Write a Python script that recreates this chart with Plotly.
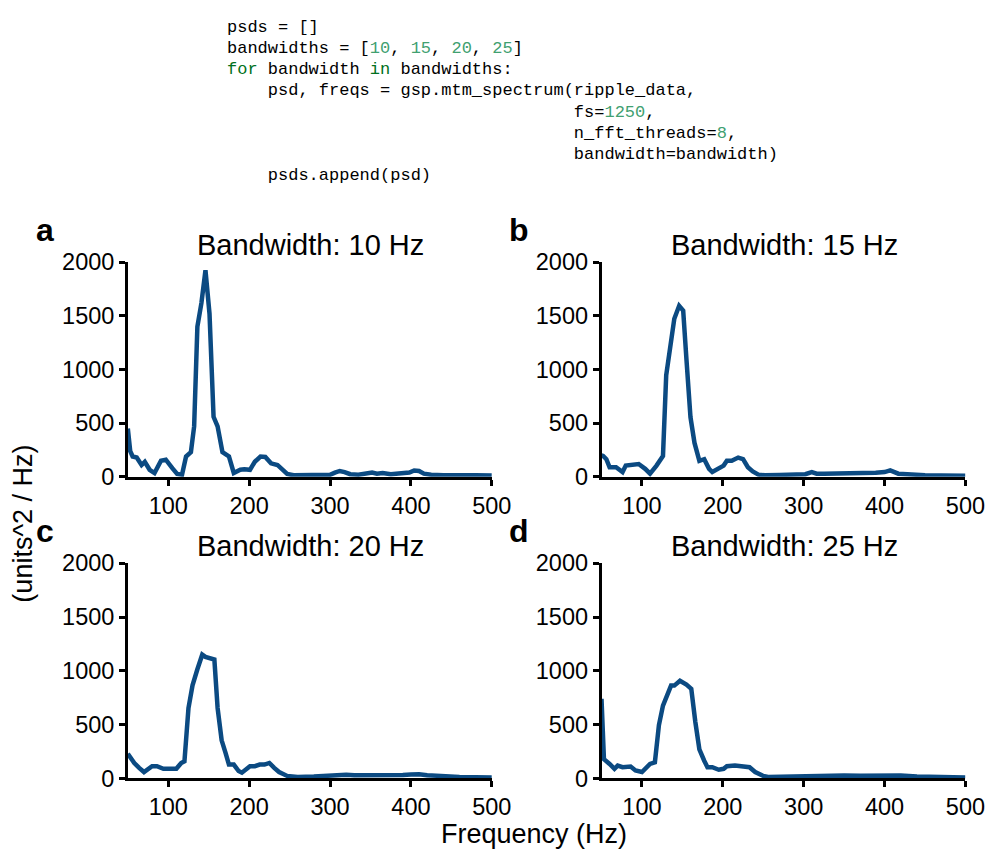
import plotly.graph_objects as go

# ---------------- data ----------------
bandwidths = [10, 15, 20, 25]
panel_letters = ["a", "b", "c", "d"]

freqs_a = [50, 53, 56, 61, 67, 71, 77, 83, 91, 97, 105, 111, 117, 122, 128, 132, 136, 141, 146, 151,
           156, 161, 167, 175, 181, 189, 194, 201, 207, 214, 220, 227, 235, 242, 247, 255, 270, 285, 300, 306,
           312, 318, 325, 335, 345, 352, 358, 365, 375, 390, 398, 404, 410, 416, 425, 440, 460, 480, 500]
psd_a = [450, 240, 190, 180, 110, 140, 66, 36, 150, 160, 81, 27, 20, 190, 231, 470, 1400, 1620, 1926, 1520,
         560, 470, 231, 190, 36, 66, 70, 66, 141, 190, 186, 126, 111, 66, 27, 15, 15, 18, 20, 40,
         55, 45, 25, 20, 30, 40, 30, 35, 25, 30, 40, 60, 55, 30, 20, 15, 18, 15, 12]

freqs_b = [50, 52, 56, 60, 68, 74, 76, 80, 90, 96, 104, 110, 118, 126, 130, 136, 140, 146, 151, 155,
           160, 165, 171, 177, 183, 187, 195, 201, 205, 211, 219, 225, 231, 237, 244, 252, 270, 290, 302, 310,
           316, 325, 340, 349, 360, 375, 389, 400, 407, 417, 430, 450, 470, 500]
psd_b = [200, 195, 165, 90, 90, 60, 45, 105, 120, 120, 75, 30, 105, 195, 947, 1278, 1474, 1594, 1549, 1098,
         556, 316, 150, 165, 75, 45, 75, 105, 150, 150, 180, 165, 90, 51, 21, 15, 18, 20, 25, 45,
         30, 30, 30, 39, 30, 32, 39, 45, 60, 30, 20, 15, 12, 10]

freqs_c = [50, 52, 58, 64, 70, 80, 86, 94, 102, 110, 116, 120, 125, 130, 136, 142, 146, 157, 161, 166,
           171, 175, 181, 187, 191, 197, 201, 207, 213, 219, 225, 231, 237, 247, 260, 280, 300, 310, 320, 330,
           345, 360, 375, 390, 400, 410, 420, 440, 460, 480, 500]
psd_c = [230, 204, 144, 99, 60, 114, 114, 90, 90, 90, 144, 159, 655, 865, 1015, 1150, 1129, 1105, 655, 354,
         234, 129, 129, 69, 54, 84, 114, 114, 129, 129, 144, 99, 60, 24, 15, 18, 25, 35, 35, 30,
         30, 28, 25, 32, 38, 40, 30, 20, 15, 12, 10]

freqs_d = [50, 53, 60, 66, 70, 76, 86, 92, 100, 110, 116, 121, 126, 131, 136, 140, 147, 155, 161, 166,
           171, 177, 181, 187, 195, 201, 205, 215, 227, 233, 240, 250, 256, 270, 290, 310, 330, 350, 370, 390,
           410, 420, 440, 460, 480, 500]
psd_d = [740, 180, 135, 90, 120, 105, 111, 75, 60, 135, 150, 496, 677, 780, 863, 863, 908, 872, 833, 526,
         271, 165, 105, 105, 81, 90, 114, 120, 105, 105, 60, 24, 15, 18, 25, 28, 30, 28, 25, 30,
         30, 28, 18, 15, 12, 10]

x_ticks = [100, 200, 300, 400, 500]
y_ticks = [0, 500, 1000, 1500, 2000]
x_range = [50, 500]
y_range = [0, 2000]

x_title = "Frequency (Hz)"
y_title = "(units^2 / Hz)"

code_lines = [
    "psds = []",
    "bandwidths = [NUM10, NUM15, NUM20, NUM25]",
    "KWfor bandwidth KWin bandwidths:",
    "    psd, freqs = gsp.mtm_spectrum(ripple_data,",
    "                                  fs=NUM1250,",
    "                                  n_fft_threads=NUM8,",
    "                                  bandwidth=bandwidth)",
    "    psds.append(psd)",
]

# ---------------- styling ----------------
W, H = 1007, 862
LINE_COLOR = "#0b4a82"
KW_COLOR = "#007020"
NUM_COLOR = "#40a070"
SANS = "Liberation Sans, Arial, sans-serif"
MONO = "Liberation Mono, DejaVu Sans Mono, monospace"

# pixel geometry of the panels (left, right, top, bottom)
panels = [
    (130.4, 501.8, 257.0, 478.3),
    (613.7, 985.0, 257.0, 478.3),
    (130.4, 501.8, 567.3, 789.3),
    (613.7, 985.0, 567.3, 789.3),
]
series = [(freqs_a, psd_a), (freqs_b, psd_b), (freqs_c, psd_c), (freqs_d, psd_d)]

fig = go.Figure()
layout = dict(
    width=W, height=H, autosize=False,
    margin=dict(l=0, r=0, t=0, b=0),
    paper_bgcolor="white", plot_bgcolor="white",
    showlegend=False,
    font=dict(family=SANS, color="black"),
)
annotations = []

def px(x):
    return x / W

def py(y):
    return 1 - y / H

for i, ((f, p), (l, r, t, b)) in enumerate(zip(series, panels)):
    n = "" if i == 0 else str(i + 1)
    xa, ya = "x" + n, "y" + n
    fig.add_trace(go.Scatter(x=f, y=p, mode="lines", xaxis=xa, yaxis=ya,
                             line=dict(color=LINE_COLOR, width=4.5)))
    layout["xaxis" + n] = dict(
        domain=[px(l), px(r)], anchor=ya, range=x_range,
        tickvals=x_ticks, ticks="outside", ticklen=6, tickwidth=2.5, tickcolor="black",
        showline=True, linewidth=2.5, linecolor="black", showgrid=False, zeroline=False,
        tickfont=dict(size=23.5, family=SANS, color="black"), fixedrange=True,
    )
    layout["yaxis" + n] = dict(
        domain=[py(b), py(t)], anchor=xa, range=y_range,
        tickvals=y_ticks, ticks="outside", ticklen=6, tickwidth=2.5, tickcolor="black",
        showline=True, linewidth=2.5, linecolor="black", showgrid=False, zeroline=False,
        tickfont=dict(size=23.5, family=SANS, color="black"), fixedrange=True,
    )
    cx = (l + r) / 2 + 1
    annotations.append(dict(
        x=px(cx), y=py(t - 17.5), xref="paper", yref="paper",
        text=f"Bandwidth: {bandwidths[i]} Hz", showarrow=False,
        xanchor="center", yanchor="middle",
        font=dict(size=29, family=SANS, color="black"),
    ))
    annotations.append(dict(
        x=px(l - 84), y=py(t - 33.5), xref="paper", yref="paper",
        text=f"<b>{panel_letters[i]}</b>", showarrow=False,
        xanchor="center", yanchor="middle",
        font=dict(size=32, family=SANS, color="black"),
    ))

annotations.append(dict(
    x=px(545), y=py(847), xref="paper", yref="paper", text=x_title, showarrow=False,
    xanchor="center", yanchor="middle", font=dict(size=27, family=SANS, color="black"),
))
annotations.append(dict(
    x=px(24), y=py(527), xref="paper", yref="paper", text=y_title, showarrow=False,
    textangle=-90, xanchor="center", yanchor="middle",
    font=dict(size=27, family=SANS, color="black"),
))

def fmt_code(s):
    import re
    s = s.replace(" ", "\u00a0")
    s = re.sub(r"KW(\w+)", lambda m: f'<span style="color:{KW_COLOR}">{m.group(1)}</span>', s)
    s = re.sub(r"NUM(\d+)", lambda m: f'<span style="color:{NUM_COLOR}">{m.group(1)}</span>', s)
    return s

for k, line in enumerate(code_lines):
    annotations.append(dict(
        x=px(230), y=py(15 + 21.8 * k), xref="paper", yref="paper",
        text=fmt_code(line), showarrow=False, xanchor="left", yanchor="middle",
        font=dict(size=17, family=MONO, color="black"),
    ))

layout["annotations"] = annotations
fig.update_layout(**layout)
fig.write_html(
    "out.html",
    config={"displayModeBar": False},
    post_script="document.body.style.margin='0';document.body.style.padding='0';"
                "document.body.style.overflow='hidden';",
)
